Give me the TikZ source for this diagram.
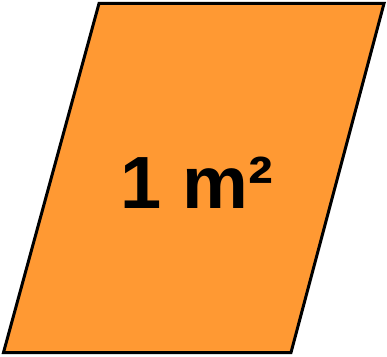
\documentclass[tikz,border=0pt]{standalone}
\usepackage{fontspec}
\setmainfont{Liberation Sans}
\definecolor{areaorange}{RGB}{255,153,51}
\begin{document}
\begin{tikzpicture}[x=1pt,y=1pt,
  shapeline/.style={draw=black,line width=3pt,fill=areaorange,line join=miter},
  label/.style={font=\fontsize{74}{80}\selectfont\bfseries,inner sep=0pt}]
\useasboundingbox (0,0) rectangle (387,356);
\coordinate (tl) at (99,352.5);
\coordinate (tr) at (384,352.5);
\coordinate (br) at (291,3.5);
\coordinate (bl) at (3.5,3.5);
\draw[shapeline] (tl) -- (tr) -- (br) -- (bl) -- cycle;
\node[label,anchor=base] (t) at (197,148) {1 m²};
\end{tikzpicture}
\end{document}
